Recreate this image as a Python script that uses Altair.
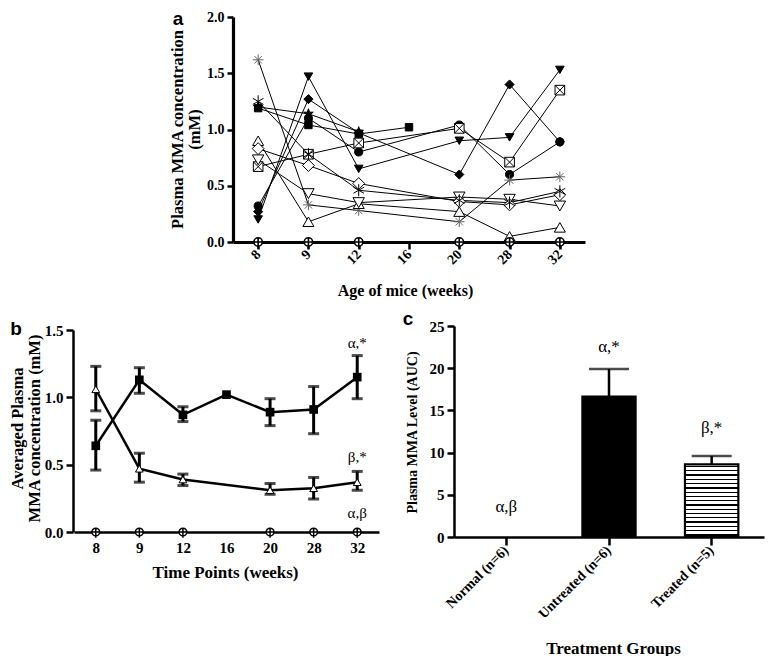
import altair as alt
import pandas as pd

# ---------------- data ----------------
weeks = ["8", "9", "12", "16", "20", "28", "32"]

# Panel a: individual mice (None = not sampled)
mice = ["U-square", "U-circle", "U-tridown", "U-diamond", "U-squarex", "U-star",
        "T-asterisk", "T-triup", "T-tridown", "T-diamond", "T-star"]
mouse_values = [
    [1.19, 1.04, 0.96, 1.02, None, None, None],
    [0.32, 1.10, 0.80, None, 1.04, 0.60, 0.89],
    [0.20, 1.47, 0.65, None, 0.90, 0.93, 1.53],
    [0.27, 1.27, 0.97, None, 0.60, 1.40, 0.89],
    [0.67, 0.78, 0.88, None, 1.01, 0.71, 1.35],
    [1.20, 1.14, 0.98, None, None, None, None],
    [1.62, 0.33, 0.28, None, 0.18, 0.55, 0.58],
    [0.90, 0.18, 0.34, None, 0.27, 0.05, 0.13],
    [0.73, 0.43, 0.35, None, 0.40, 0.38, 0.32],
    [0.83, 0.68, 0.52, None, 0.36, 0.33, 0.42],
    [1.25, 0.78, 0.46, None, 0.37, 0.35, 0.45],
]
normal_values = [0, 0, 0, None, 0, 0, 0]

# Panel b: group averages
untreated_mean = [0.64, 1.13, 0.87, 1.02, 0.89, 0.91, 1.15]
untreated_lo = [0.46, 1.03, 0.82, None, 0.79, 0.73, 0.99]
untreated_hi = [0.83, 1.22, 0.93, None, 0.99, 1.08, 1.31]
treated_mean = [1.06, 0.47, 0.39, None, 0.31, 0.325, 0.37]
treated_lo = [0.90, 0.37, 0.345, None, 0.28, 0.245, 0.31]
treated_hi = [1.23, 0.585, 0.43, None, 0.36, 0.405, 0.45]
b_notes = ["α,*", "β,*", "α,β"]
b_note_y = [1.40, 0.56, 0.14]

# Panel c: AUC
groups = ["Normal (n=6)", "Untreated (n=6)", "Treated (n=5)"]
auc_mean = [0, 16.64, 8.6]
auc_hi = [None, 19.9, 9.6]
c_notes = ["α,β", "α,*", "β,*"]
c_note_y = [3.5, 22.5, 12.9]

# ---------------- styles ----------------
SERIF = "Liberation Serif"
STAR = "M0,-1L0.2245,-0.309L0.951,-0.309L0.363,0.118L0.588,0.809L0,0.382L-0.588,0.809L-0.363,0.118L-0.951,-0.309L-0.2245,-0.309Z"
SQX = "M-1,-1L1,-1L1,1L-1,1ZM-1,-1L1,1M-1,1L1,-1"
AST8 = "M0,-1L0,1M-1,0L1,0M-0.7,-0.7L0.7,0.7M-0.7,0.7L0.7,-0.7"
AST6 = "M0,-1L0,1M-0.87,-0.5L0.87,0.5M-0.87,0.5L0.87,-0.5"
CPLUS = "M-1,0A1,1,0,1,1,1,0A1,1,0,1,1,-1,0ZM-1,0L1,0M0,-1L0,1.5"

shape_range = ["square", "circle", "triangle-down", "diamond", SQX, STAR,
               AST8, "triangle-up", "triangle-down", "diamond", AST6]
fill_range = ["black", "black", "black", "black", "white", "black",
              "white", "white", "white", "white", "white"]
stroke_range = ["black"] * 6 + ["#666666"] + ["black"] * 4
size_range = [55, 150, 50, 50, 50, 45, 70, 55, 55, 55, 60]

W, H = 758, 648


def ax(**kw):
    base = dict(domainColor="black", tickColor="black", grid=False,
                labelFont=SERIF, labelFontWeight="bold", labelColor="black",
                titleFont=SERIF, titleFontWeight="bold", titleColor="black",
                titleAlign="center", titleBaseline="middle")
    base.update(kw)
    return alt.Axis(**base)


# ---------------- panel a ----------------
rows = []
for m, vals in zip(mice, mouse_values):
    for i, (w, v) in enumerate(zip(weeks, vals)):
        if v is not None:
            rows.append({"mouse": m, "week": w, "idx": i, "value": v})
df_a = pd.DataFrame(rows)
df_norm = pd.DataFrame([{"week": w, "idx": i, "value": v}
                        for i, (w, v) in enumerate(zip(weeks, normal_values)) if v is not None])

xa = alt.X("week:O", scale=alt.Scale(type="point", domain=weeks, range=[225, 577], padding=0.5),
           axis=ax(orient="bottom", offset=234 - H, labelAngle=-45, labelAlign="right",
                   labelBaseline="middle", labelFontSize=14, labelPadding=3,
                   domainWidth=3.2, tickWidth=2.5, tickSize=7,
                   title="Age of mice (weeks)", titleFontSize=16, titleX=397, titleY=48))
ya = alt.Y("value:Q", scale=alt.Scale(domain=[0, 2], range=[234, 9], nice=False),
           axis=ax(orient="left", offset=-225, values=[0, 0.5, 1, 1.5, 2], format=".1f",
                   labelFontSize=14, labelPadding=3, domainWidth=3.2, tickWidth=2.5, tickSize=6,
                   title=["Plasma MMA concentration", "(mM)"], titleFontSize=16.5,
                   titleAngle=-90, titleX=-56, titleY=121, titleLineHeight=17))

lines_a = alt.Chart(df_a).mark_line(color="black", strokeWidth=1).encode(
    x=xa, y=ya, detail="mouse:N", order="idx:Q")
pts_a = alt.Chart(df_a).mark_point(filled=True, opacity=1, strokeWidth=1).encode(
    x=xa, y=ya,
    shape=alt.Shape("mouse:N", scale=alt.Scale(domain=mice, range=shape_range), legend=None),
    fill=alt.Fill("mouse:N", scale=alt.Scale(domain=mice, range=fill_range), legend=None),
    stroke=alt.Stroke("mouse:N", scale=alt.Scale(domain=mice, range=stroke_range), legend=None),
    size=alt.Size("mouse:N", scale=alt.Scale(domain=mice, range=size_range), legend=None))
norm_a = alt.Chart(df_norm).mark_point(shape=CPLUS, size=70, fill="white", stroke="black",
                                       filled=True, opacity=1, strokeWidth=1.6).encode(x=xa, y=ya)
panel_a = alt.layer(lines_a, pts_a, norm_a)

# ---------------- panel b ----------------
def grp(means, los, his):
    return pd.DataFrame([{"week": w, "idx": i, "mean": m, "lo": lo, "hi": hi}
                         for i, (w, m, lo, hi) in enumerate(zip(weeks, means, los, his)) if m is not None])

df_un = grp(untreated_mean, untreated_lo, untreated_hi)
df_tr = grp(treated_mean, treated_lo, treated_hi)
df_un_err = df_un.dropna()
df_tr_err = df_tr.dropna()
df_nb = df_norm.rename(columns={"value": "mean"})
df_bn = pd.DataFrame({"week": ["32"] * 3, "note": b_notes, "y": b_note_y})

xb_scale = alt.Scale(type="point", domain=weeks, range=[66, 371], padding=0.5)
xb_axis = ax(orient="bottom", offset=524 - H, labelAngle=0, labelFontSize=15, labelPadding=8,
             ticks=False, domainWidth=2.5,
             title="Time Points (weeks)", titleFontSize=17, titleX=217, titleY=40)
yb_scale = alt.Scale(domain=[0, 1.5], range=[524, 322], nice=False)
yb_axis = ax(orient="left", offset=-65, values=[0, 0.5, 1.0, 1.5], format=".1f",
             labelFontSize=15, labelPadding=3, domainWidth=2.5, tickWidth=2.5, tickSize=7,
             title=["Averaged Plasma", "MMA concentration (mM)"], titleFontSize=16.5,
             titleAngle=-90, titleX=-56, titleY=420, titleLineHeight=17)
xb = alt.X("week:O", scale=xb_scale, axis=xb_axis)


def yb(field):
    return alt.Y(f"{field}:Q", scale=yb_scale, axis=yb_axis)


b_layers = []
for dfm, dfe in [(df_un, df_un_err), (df_tr, df_tr_err)]:
    b_layers.append(alt.Chart(dfm).mark_line(color="black", strokeWidth=2.5).encode(
        x=xb, y=yb("mean"), order="idx:Q"))
    b_layers.append(alt.Chart(dfe).mark_rule(color="black", strokeWidth=3).encode(
        x=xb, y=yb("lo"), y2="hi:Q"))
    b_layers.append(alt.Chart(dfe).mark_tick(color="black", size=11, thickness=3).encode(x=xb, y=yb("lo")))
    b_layers.append(alt.Chart(dfe).mark_tick(color="black", size=11, thickness=3).encode(x=xb, y=yb("hi")))
b_layers.append(alt.Chart(df_nb).mark_point(shape=CPLUS, size=60, fill="white", stroke="black",
                                            filled=True, opacity=1, strokeWidth=1.5).encode(x=xb, y=yb("mean")))
b_layers.append(alt.Chart(df_un).mark_point(shape="square", size=75, color="black", filled=True,
                                            opacity=1).encode(x=xb, y=yb("mean")))
b_layers.append(alt.Chart(df_tr).mark_point(shape="triangle-up", size=60, fill="white", stroke="black",
                                            filled=True, opacity=1, strokeWidth=1).encode(x=xb, y=yb("mean")))
b_layers.append(alt.Chart(df_bn).mark_text(font=SERIF, fontSize=15, color="black").encode(
    x=xb, y=alt.Y("y:Q", scale=yb_scale, axis=yb_axis), text="note:N"))
panel_b = alt.layer(*b_layers)

# ---------------- panel c ----------------
df_c = pd.DataFrame({"group": groups, "mean": auc_mean, "hi": auc_hi})
df_cn = pd.DataFrame({"group": groups, "note": c_notes, "y": c_note_y})

xc_scale = alt.Scale(type="band", domain=groups, range=[446, 756], paddingInner=0.48, paddingOuter=0.25)
xc_axis = ax(orient="bottom", offset=529 - H, labelAngle=-45, labelAlign="right", labelBaseline="middle",
             labelFontSize=14, labelPadding=3, domainWidth=2.5, tickWidth=2.5, tickSize=8,
             title="Treatment Groups", titleFontSize=17, titleX=605, titleY=111)
yc_scale = alt.Scale(domain=[0, 25], range=[529, 318], nice=False)
yc_axis = ax(orient="left", offset=-446, values=[0, 5, 10, 15, 20, 25], format="d",
             labelFontSize=15, labelPadding=3, domainWidth=2.5, tickWidth=2.5, tickSize=7,
             title="Plasma MMA Level (AUC)", titleFontSize=14, titleAngle=-90, titleX=-42, titleY=424)
xc = alt.X("group:N", scale=xc_scale, axis=xc_axis)


def yc(field):
    return alt.Y(f"{field}:Q", scale=yc_scale, axis=yc_axis)


n_str = 17
stops = [alt.GradientStop(offset=0, color="white")]
for i in range(n_str):
    a = (i + 0.35) / n_str
    b = (i + 0.65) / n_str
    stops += [alt.GradientStop(offset=a, color="white"), alt.GradientStop(offset=a, color="black"),
              alt.GradientStop(offset=b, color="black"), alt.GradientStop(offset=b, color="white")]
stops.append(alt.GradientStop(offset=1, color="white"))
stripes = alt.LinearGradient(gradient="linear", stops=stops, x1=0, x2=0, y1=0, y2=1)

df_c_err = df_c.dropna()
bar_un = alt.Chart(df_c).transform_filter(alt.datum.group == groups[1]).mark_bar(
    color="black", stroke="black", strokeWidth=2).encode(x=xc, y=yc("mean"))
bar_tr = alt.Chart(df_c).transform_filter(alt.datum.group == groups[2]).mark_bar(
    fill=stripes, stroke="black", strokeWidth=2.2).encode(x=xc, y=yc("mean"))
err_c = alt.Chart(df_c_err).mark_rule(color="black", strokeWidth=2.5).encode(x=xc, y=yc("mean"), y2="hi:Q")
cap_c = alt.Chart(df_c_err).mark_tick(color="black", size=40, thickness=2.5).encode(x=xc, y=yc("hi"))
note_c = alt.Chart(df_cn).mark_text(font=SERIF, fontSize=17, color="black").encode(
    x=xc, y=alt.Y("y:Q", scale=yc_scale, axis=yc_axis), text="note:N")
panel_c = alt.layer(bar_un, bar_tr, err_c, cap_c, note_c)

# ---------------- panel letters ----------------
df_letters = pd.DataFrame({"t": ["a", "b", "c"]})
letter_pos = {"a": (170, 2), "b": (8, 312), "c": (400, 302)}
letters = [alt.Chart(df_letters).transform_filter(alt.datum.t == t).mark_text(
    font="Liberation Sans", fontWeight="bold", fontSize=19, color="black", align="center",
    baseline="top").encode(x=alt.value(p[0]), y=alt.value(p[1]), text="t:N")
    for t, p in letter_pos.items()]

chart = alt.layer(panel_a, panel_b, panel_c, *letters).resolve_scale(
    x="independent", y="independent").properties(
    width=W, height=H, autosize=alt.AutoSizeParams(type="none"), padding=0,
    background="white").configure_view(strokeWidth=0)

chart.save("out.html", embed_options={"renderer": "svg", "actions": False})
